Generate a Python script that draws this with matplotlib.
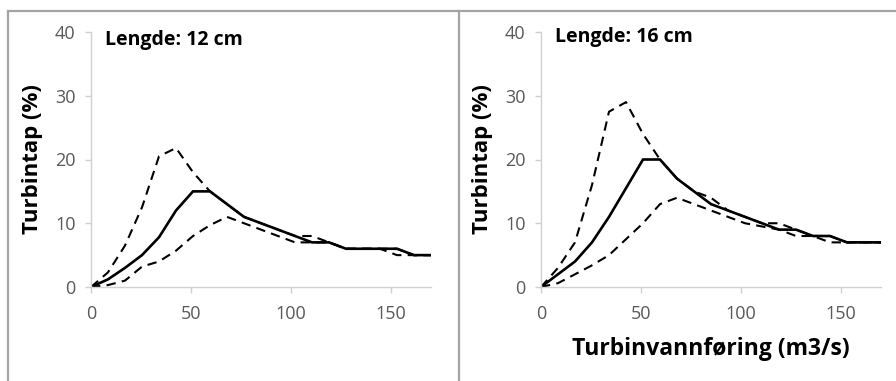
import matplotlib
matplotlib.use("Agg")
import matplotlib.pyplot as plt
from matplotlib.lines import Line2D

# Turbine discharge (m3/s)
flow = [0, 8.5, 17, 25.5, 34, 42.5, 51, 59.5, 68, 76.5, 85, 93.5, 102,
        110.5, 119, 127.5, 136, 144.5, 153, 161.5, 170]

# Fish length 12 cm: turbine loss (%)
loss12_mid = [0, 1.2, 3, 5, 7.8, 12, 15, 15, 13, 11, 10, 9, 8, 7, 7, 6, 6, 6, 6, 5, 5]
loss12_high = [0, 2.3, 6.5, 12.5, 20.5, 21.8, 18, 15, 13, 11, 10, 9, 8, 8, 7, 6, 6, 6, 6, 5, 5]
loss12_low = [0, 0.3, 1, 3.2, 4, 5.7, 8, 9.7, 11, 10, 9, 8, 7, 7, 7, 6, 6, 6, 5, 5, 5]

# Fish length 16 cm: turbine loss (%)
loss16_mid = [0, 2, 4, 7, 11, 15.5, 20, 20, 17, 15, 13, 12, 11, 10, 9, 9, 8, 8, 7, 7, 7]
loss16_high = [0, 3, 7, 16, 27.5, 29, 24, 20, 17, 15, 14, 12, 11, 10, 10, 9, 8, 8, 7, 7, 7]
loss16_low = [0, 0.6, 2, 3.4, 5, 7.5, 10, 13, 14, 13, 12, 11, 10, 9.5, 9, 8, 8, 7, 7, 7, 7]

titles = ["Lengde: 12 cm", "Lengde: 16 cm"]
ylabel = "Turbintap (%)"
xlabel = "Turbinvannføring (m3/s)"
xticks = [0, 50, 100, 150]
yticks = [0, 10, 20, 30, 40]

plt.rcParams['font.family'] = ['Open Sans', 'DejaVu Sans']

fig = plt.figure(figsize=(8.96, 3.81), dpi=100)

# panel frames
frame_col = "#a4a4a4"
top_y = 1 - 11 / 381
fig.add_artist(Line2D([8 / 896, 1.0], [top_y, top_y], transform=fig.transFigure,
                      color=frame_col, lw=1.6))
fig.add_artist(Line2D([8 / 896, 8 / 896], [0, top_y], transform=fig.transFigure,
                      color=frame_col, lw=1.6))
fig.add_artist(Line2D([459 / 896, 459 / 896], [0, top_y], transform=fig.transFigure,
                      color=frame_col, lw=1.6))

panels = [
    (loss12_mid, loss12_high, loss12_low, 91),
    (loss16_mid, loss16_high, loss16_low, 541),
]

for i, (mid, high, low, left_px) in enumerate(panels):
    ax = fig.add_axes([left_px / 896, (381 - 287) / 381, 340 / 896, 255 / 381])
    ax.plot(flow, high, color="black", lw=1.5, dashes=(4.5, 3))
    ax.plot(flow, low, color="black", lw=1.5, dashes=(4.5, 3))
    ax.plot(flow, mid, color="black", lw=1.9, solid_joinstyle="miter")
    ax.set_xlim(0, 170)
    ax.set_ylim(0, 40)
    ax.set_xticks(xticks)
    ax.set_yticks(yticks)
    for s in ["top", "right"]:
        ax.spines[s].set_visible(False)
    for s in ["left", "bottom"]:
        ax.spines[s].set_color("#d0d0d0")
        ax.spines[s].set_linewidth(1.0)
    ax.tick_params(axis="both", colors="#d0d0d0", labelcolor="#595959",
                   labelsize=13, length=4, width=1.0, direction="out")
    ax.tick_params(axis="x", pad=9)
    ax.tick_params(axis="y", pad=7)
    ax.set_ylabel(ylabel, fontsize=16, fontweight="bold", labelpad=9)
    ax.text(0.04, 0.97 if i == 0 else 0.98, titles[i], transform=ax.transAxes,
            fontsize=14, fontweight="bold", ha="left", va="center")
    if i == 1:
        ax.set_xlabel(xlabel, fontsize=16.5, fontweight="bold", labelpad=10)

fig.savefig("out.png", dpi=100)
